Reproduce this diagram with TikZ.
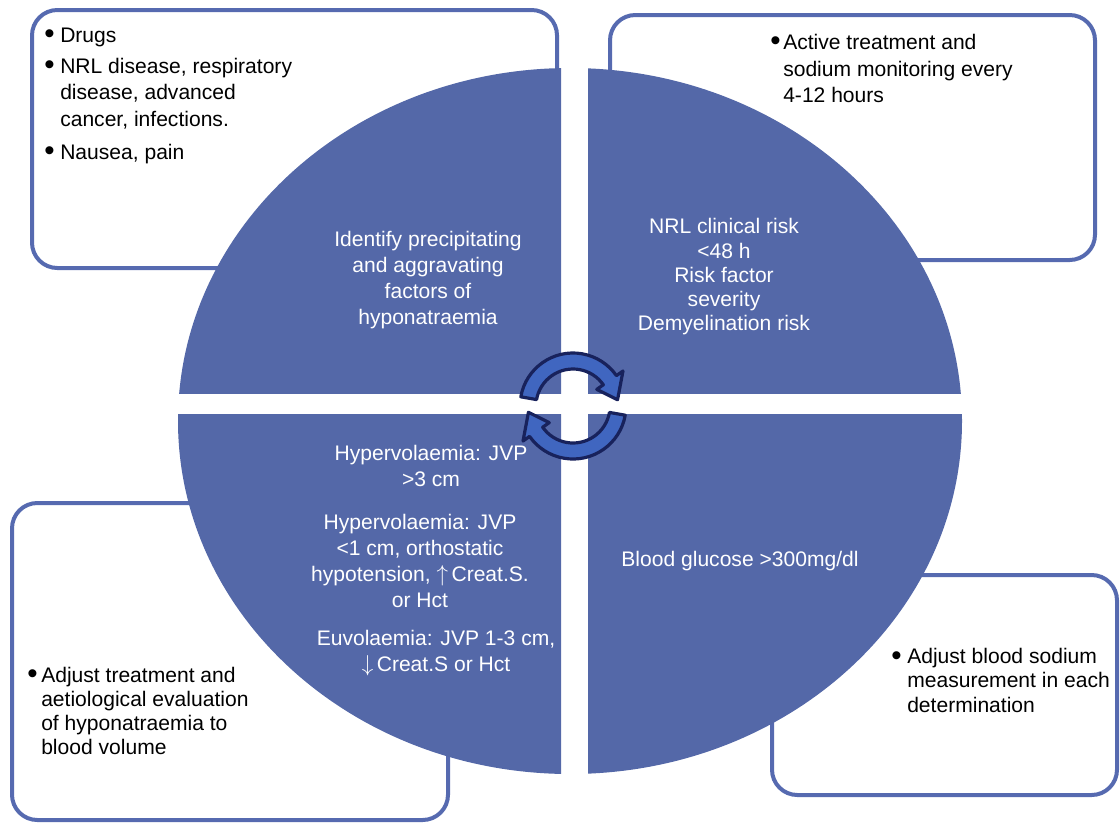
\documentclass[tikz,border=0pt]{standalone}
\usepackage{fontspec}
\setmainfont{Liberation Sans}
\usetikzlibrary{positioning}
\definecolor{quadblue}{RGB}{84,104,168}
\definecolor{boxblue}{RGB}{86,106,176}
\definecolor{cyclefill}{RGB}{64,102,192}
\definecolor{cycleline}{RGB}{24,34,92}
% bullet item, lines set with \\ inside
\newcommand{\bitem}[2][10.5pt]{\makebox[#1][l]{\raisebox{-0.15ex}{\scalebox{1.4}{\textbullet}}}\begin{tabular}[t]{@{}l@{}}#2\end{tabular}}
\newcommand{\vup}{\scalebox{1.2}{$\uparrow$}}
\newcommand{\vdown}{\scalebox{1.2}{$\downarrow$}}
\tikzset{
  infobox/.style={draw=boxblue, line width=3pt, rounded corners=19pt},
  quad/.style={fill=quadblue},
  quadtext/.style={text=white, align=center, inner sep=0pt, font=\fontsize{15.8}{19.5}\selectfont},
  boxtext/.style={text=black, align=left, inner sep=0pt, anchor=north west},
  cyclearrow/.style={fill=cyclefill, draw=cycleline, line width=2.4pt, line join=round}
}
\begin{document}
\begin{tikzpicture}[x=0.75pt, y=-0.75pt]
  \useasboundingbox (0,0) rectangle (1120,822);
  % outer boxes
  \draw[infobox] (32,10) rectangle (557,268);
  \draw[infobox] (610,15) rectangle (1095,260);
  \draw[infobox] (12,503) rectangle (448,820);
  \draw[infobox] (772,575) rectangle (1117,795);
  % four quadrants of the ellipse
  \foreach \xa/\xb/\ya/\yb in {170/561/60/393, 588/970/60/393, 170/561/414/780, 588/970/414/780} {
    \begin{scope}
      \clip (\xa,\ya) rectangle (\xb,\yb);
      \fill[quad] (570,421) ellipse[x radius=392, y radius=353];
    \end{scope}
  }
  % cycle arrows
  \begin{scope}[shift={(573,406)}]
    \foreach \r in {0,180} {
      \draw[cyclearrow, rotate=\r] (190:53) arc[start angle=190, end angle=325, radius=53]
        -- (325:61) -- (352:45) -- (325:29) -- (325:37)
        arc[start angle=325, end angle=190, radius=37] -- cycle;
    }
  \end{scope}
  % quadrant texts
  \node[quadtext] (precip) at (428,280) {Identify precipitating\\and aggravating\\factors of\\hyponatraemia};
  \node[quadtext, font=\fontsize{15.8}{18.2}\selectfont] (risk) at (724,277) {NRL clinical risk\\<48 h\\Risk factor\\severity\\Demyelination risk};
  \node[quadtext] (hyper) at (431,466) {Hypervolaemia: JVP\\>3 cm};
  \node[quadtext] (hypo) at (420,561) {Hypervolaemia: JVP\\<1 cm, orthostatic\\hypotension, \vup\,Creat.S.\\or Hct};
  \node[quadtext] (euvol) at (436,653) {Euvolaemia: JVP 1-3 cm,\\\vdown\,Creat.S or Hct};
  \node[quadtext] (glucose) at (740,561) {Blood glucose >300mg/dl};
  % box texts
  \node[boxtext, font=\fontsize{15.8}{20.2}\selectfont] (causes) at (44,23)
    {\bitem[12pt]{Drugs}\\[3pt]\bitem[12pt]{NRL disease, respiratory\\disease, advanced\\cancer, infections.}\\[3pt]\bitem[12pt]{Nausea, pain}};
  \node[boxtext, font=\fontsize{15.8}{20.2}\selectfont] (monitor) at (770,30)
    {\bitem[9.75pt]{Active treatment and\\sodium monitoring every\\4-12 hours}};
  \node[boxtext, font=\fontsize{15.8}{18}\selectfont] (adjustvol) at (27,665)
    {\bitem[10.5pt]{Adjust treatment and\\aetiological evaluation\\of hyponatraemia to\\blood volume}};
  \node[boxtext, font=\fontsize{15.8}{18.4}\selectfont] (adjustna) at (891,646)
    {\bitem[12pt]{Adjust blood sodium\\measurement in each\\determination}};
\end{tikzpicture}
\end{document}
